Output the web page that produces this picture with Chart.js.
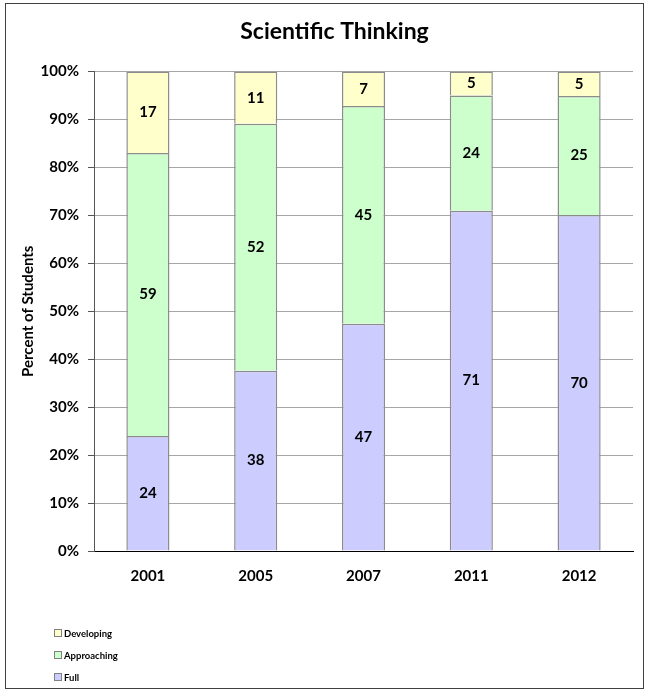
<!DOCTYPE html>
<html>
<head>
<meta charset="utf-8">
<script src="https://cdn.jsdelivr.net/npm/chart.js@4"></script>
<style>
  body { margin: 0; background: #fff; font-family: Lato, "Open Sans", sans-serif; }
  #wrap { position: relative; width: 648px; height: 700px; }
  #frame { position: absolute; left: 5px; top: 3px; width: 637px; height: 684px; border: 1px solid #404040; pointer-events: none; }
  #legend { position: absolute; left: 54px; top: 622px; font-size: 9.5px; font-weight: bold; color: #000; }
  #legend div { height: 22px; display: flex; align-items: center; }
  #legend span.box { display: inline-block; width: 6px; height: 6px; border: 1px solid #808080; margin-right: 2px; }
</style>
</head>
<body>
<div id="wrap">
  <canvas id="chart" width="648" height="700"></canvas>
  <div id="frame"></div>
  <div id="legend"></div>
</div>
<script>
// Categories and series (percent of students)
const years = ["2001", "2005", "2007", "2011", "2012"];
const fullValues = [24, 37.6, 47.4, 71, 70.1];
const approachingValues = [59, 51.5, 45.4, 24, 24.8];
const developingValues = [17, 10.9, 7.2, 5, 5.1];
const yTicks = [0, 10, 20, 30, 40, 50, 60, 70, 80, 90, 100];

const series = [
    { label: "Full", data: fullValues, color: "#ccccff" },
    { label: "Approaching", data: approachingValues, color: "#ccffcc" },
    { label: "Developing", data: developingValues, color: "#ffffcc" }
];

const fontFamily = "Lato, 'Open Sans', sans-serif";

// draw the rounded value in the middle of each segment
const segmentLabels = {
    id: "segmentLabels",
    afterDatasetsDraw(chart) {
        const ctx = chart.ctx;
        ctx.save();
        ctx.font = "bold 15px " + fontFamily;
        ctx.fillStyle = "#000";
        ctx.textAlign = "center";
        ctx.textBaseline = "middle";
        chart.data.datasets.forEach((ds, i) => {
            chart.getDatasetMeta(i).data.forEach((bar, j) => {
                const mid = (bar.y + bar.base) / 2;
                ctx.fillText(String(Math.round(ds.data[j])), bar.x, mid);
            });
        });
        ctx.restore();
    }
};

new Chart(document.getElementById("chart"), {
    type: "bar",
    data: {
        labels: years,
        datasets: series.map(s => ({
            label: s.label,
            data: s.data,
            backgroundColor: s.color,
            borderColor: "#8c8c8c",
            borderWidth: 1.5,
            categoryPercentage: 1,
            barPercentage: 0.4
        }))
    },
    options: {
        responsive: false,
        animation: false,
        // left padding shifts the centred title to where the original has it
        layout: { padding: { left: 36, right: 15, top: 0, bottom: 0 } },
        plugins: {
            legend: { display: false },
            tooltip: { enabled: false },
            title: {
                display: true,
                text: "Scientific Thinking",
                color: "#000",
                font: { family: fontFamily, size: 23, weight: "bold" },
                padding: { top: 18, bottom: 26 }
            }
        },
        scales: {
            x: {
                stacked: true,
                grid: { display: false, drawTicks: false },
                border: { color: "#000", width: 1 },
                ticks: { color: "#000", padding: 16, font: { family: fontFamily, size: 15, weight: "bold" } },
                afterFit: scale => { scale.height = 149; }
            },
            y: {
                stacked: true,
                min: 0,
                max: 100,
                afterBuildTicks: scale => { scale.ticks = yTicks.map(v => ({ value: v })); },
                grid: { color: "#a6a6a6", tickLength: 6, tickColor: "#555" },
                border: { color: "#555", width: 1 },
                ticks: {
                    color: "#000",
                    padding: 9,
                    font: { family: fontFamily, size: 15, weight: "bold" },
                    callback: v => v + "%"
                },
                title: {
                    display: true,
                    text: "Percent of Students",
                    color: "#000",
                    font: { family: fontFamily, size: 15, weight: "bold" },
                    padding: { top: -17, bottom: 0 }
                },
                afterFit: scale => { scale.width = 58; }
            }
        }
    },
    plugins: [segmentLabels]
});

// legend below the plot, top series first
const legend = document.getElementById("legend");
series.slice().reverse().forEach(s => {
    const row = document.createElement("div");
    const box = document.createElement("span");
    box.className = "box";
    box.style.background = s.color;
    row.appendChild(box);
    row.appendChild(document.createTextNode(s.label));
    legend.appendChild(row);
});
</script>
</body>
</html>
